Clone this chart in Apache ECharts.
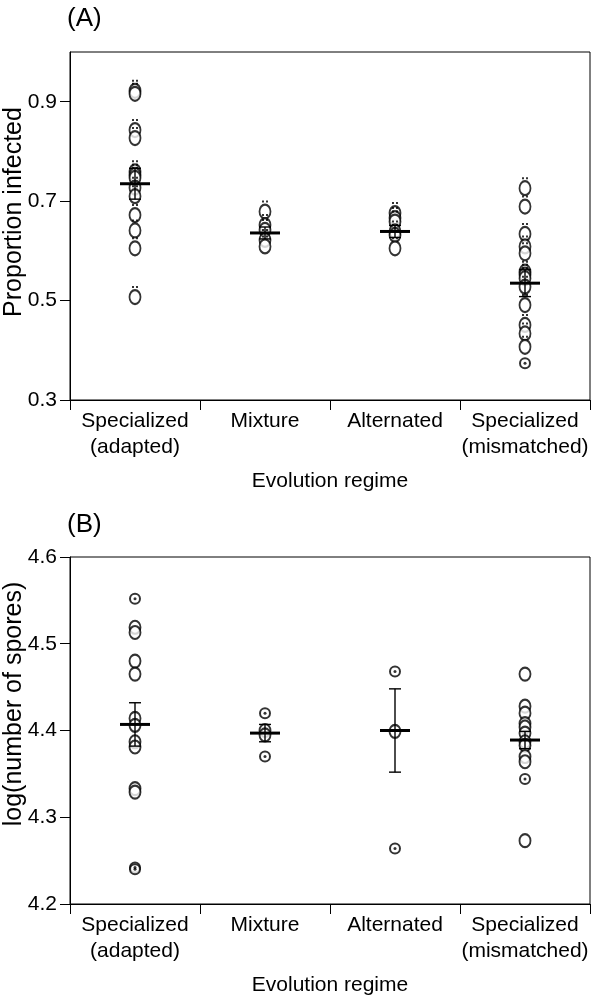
<!DOCTYPE html>
<html><head><meta charset="utf-8">
<script src="https://cdn.jsdelivr.net/npm/echarts@6/dist/echarts.min.js"></script>
<style>html,body{margin:0;padding:0;background:#fff}#c{width:600px;height:999px}</style>
</head><body><div id="c"></div>
<script>
const categories = ['Specialized\n(adapted)', 'Mixture', 'Alternated', 'Specialized\n(mismatched)'];

// Panel A: proportion infected
const aAdapted    = [0.922, 0.916, 0.843, 0.827, 0.760, 0.753, 0.747, 0.727, 0.710, 0.672, 0.641, 0.605, 0.507];
const aMixture    = [0.679, 0.652, 0.642, 0.622, 0.609];
const aAlternated = [0.676, 0.666, 0.659, 0.639, 0.632, 0.605];
const aMismatched = [0.726, 0.689, 0.634, 0.609, 0.595, 0.558, 0.552, 0.545, 0.528, 0.491, 0.451, 0.434, 0.407, 0.374];
const aDotted     = [[], [], [], [0.374]];   // points drawn as circle with centre dot
const aMeans = [0.735, 0.636, 0.639, 0.535];
const aSE    = [0.031, 0.012, 0.012, 0.027];
const aTicks = [0.3, 0.5, 0.7, 0.9];

// Panel B: log(number of spores)
const bAdapted    = [4.552, 4.519, 4.513, 4.480, 4.465, 4.414, 4.406, 4.387, 4.381, 4.333, 4.329, 4.242, 4.240];
const bMixture    = [4.420, 4.400, 4.395, 4.370];
const bAlternated = [4.468, 4.399, 4.264];
const bMismatched = [4.465, 4.428, 4.420, 4.408, 4.404, 4.397, 4.387, 4.383, 4.370, 4.364, 4.344, 4.273];
const bDotted     = [[4.552, 4.242, 4.240], [4.420, 4.370], [4.468, 4.264], [4.344]];
const bMeans = [4.407, 4.397, 4.400, 4.389];
const bSE    = [0.025, 0.010, 0.048, 0.010];
const bTicks = [4.2, 4.3, 4.4, 4.5, 4.6];

const FONT = 'Liberation Sans';

function pts(groups, dotted, wantDotted) {
  const out = [];
  groups.forEach((g, i) => g.forEach(v => {
    const isDot = dotted[i].indexOf(v) >= 0;
    if (isDot === wantDotted) out.push([i, v]);
  }));
  return out;
}
function errData(means, se) {
  return means.map((m, i) => [i, m, m - se[i], m + se[i]]);
}
function renderErr(params, api) {
  const c = api.coord([api.value(0), api.value(1)]);
  const lo = api.coord([api.value(0), api.value(2)]);
  const hi = api.coord([api.value(0), api.value(3)]);
  const x = c[0];
  const thin = { stroke: '#000', lineWidth: 1.4 };
  return {
    type: 'group',
    children: [
      { type: 'line', shape: { x1: x, y1: hi[1], x2: x, y2: lo[1] }, style: thin },
      { type: 'line', shape: { x1: x - 6, y1: hi[1], x2: x + 6, y2: hi[1] }, style: thin },
      { type: 'line', shape: { x1: x - 6, y1: lo[1], x2: x + 6, y2: lo[1] }, style: thin },
      { type: 'line', shape: { x1: x - 15, y1: c[1], x2: x + 15, y2: c[1] }, style: { stroke: '#000', lineWidth: 3 } }
    ]
  };
}

const txt = { color: '#000', fontFamily: FONT, fontSize: 21 };

function xAxis(idx) {
  return {
    type: 'category', gridIndex: idx, data: categories, boundaryGap: true,
    axisLine: { show: true, lineStyle: { color: '#000', width: 1 } },
    axisTick: { show: true, length: 10, lineStyle: { color: '#000', width: 1 } },
    axisLabel: Object.assign({ margin: 8, lineHeight: 26, interval: 0 }, txt),
    name: 'Evolution regime', nameLocation: 'middle', nameGap: 71,
    nameTextStyle: txt,
    splitLine: { show: false }
  };
}
function yAxis(idx, min, max, ticks) {
  return {
    type: 'value', gridIndex: idx, min: min, max: max,
    axisLine: { show: true, lineStyle: { color: '#000', width: 1 } },
    axisTick: { show: true, length: 10, customValues: ticks, lineStyle: { color: '#000', width: 1 } },
    axisLabel: Object.assign({ margin: 13, customValues: ticks, formatter: v => v.toFixed(1) }, txt),
    splitLine: { show: false }
  };
}

const chart = echarts.init(document.getElementById('c'), null, { renderer: 'canvas' });
const ring = { symbol: 'emptyCircle', itemStyle: { color: '#000', borderColor: '#000', borderWidth: 1.6 } };
const gridBase = { left: 70, width: 520, show: true, borderColor: '#000', borderWidth: 1, backgroundColor: 'transparent', containLabel: false, outerBoundsMode: 'none' };
const nameStyle = { text: '', fill: '#000', font: '25px "Liberation Sans"', align: 'center', verticalAlign: 'middle' };
const aGroups = [aAdapted, aMixture, aAlternated, aMismatched];
const bGroups = [bAdapted, bMixture, bAlternated, bMismatched];

chart.setOption({
  backgroundColor: '#fff',
  animation: false,
  title: [
    { text: '(A)', left: 67, top: 6, padding: 0, textStyle: { color: '#000', fontFamily: FONT, fontSize: 26, fontWeight: 'normal' } },
    { text: '(B)', left: 67, top: 512, padding: 0, textStyle: { color: '#000', fontFamily: FONT, fontSize: 26, fontWeight: 'normal' } }
  ],
  graphic: [
    { type: 'text', x: 14, y: 212, rotation: Math.PI / 2, style: Object.assign({}, nameStyle, { text: 'Proportion infected' }) },
    { type: 'text', x: 14, y: 704, rotation: Math.PI / 2, style: Object.assign({}, nameStyle, { text: 'log(number of spores)' }) }
  ],
  grid: [
    Object.assign({ top: 52, height: 348 }, gridBase),
    Object.assign({ top: 557, height: 347 }, gridBase)
  ],
  xAxis: [xAxis(0), xAxis(1)],
  yAxis: [yAxis(0, 0.3, 1.0, aTicks), yAxis(1, 4.2, 4.6, bTicks)],
  series: [
    Object.assign({ type: 'scatter', xAxisIndex: 0, yAxisIndex: 0, symbolSize: [11, 14],
      data: pts(aGroups, aDotted, false) }, ring),
    // the two small marks above each open marker in panel A
    { type: 'scatter', xAxisIndex: 0, yAxisIndex: 0, symbol: 'path://M0,0h2v2h-2zM4,0h2v2h-2z',
      symbolSize: [6, 2], symbolOffset: [0, -10], itemStyle: { color: '#000' }, silent: true,
      data: pts(aGroups, aDotted, false) },
    Object.assign({ type: 'scatter', xAxisIndex: 0, yAxisIndex: 0, symbolSize: [10, 10],
      data: pts(aGroups, aDotted, true) }, ring),
    { type: 'scatter', xAxisIndex: 0, yAxisIndex: 0, symbol: 'circle', symbolSize: 3, itemStyle: { color: '#000' },
      data: pts(aGroups, aDotted, true) },
    Object.assign({ type: 'scatter', xAxisIndex: 1, yAxisIndex: 1, symbolSize: [11, 13],
      data: pts(bGroups, bDotted, false) }, ring),
    Object.assign({ type: 'scatter', xAxisIndex: 1, yAxisIndex: 1, symbolSize: [10, 10],
      data: pts(bGroups, bDotted, true) }, ring),
    { type: 'scatter', xAxisIndex: 1, yAxisIndex: 1, symbol: 'circle', symbolSize: 3, itemStyle: { color: '#000' },
      data: pts(bGroups, bDotted, true) },
    { type: 'custom', xAxisIndex: 0, yAxisIndex: 0, renderItem: renderErr, data: errData(aMeans, aSE), z: 5 },
    { type: 'custom', xAxisIndex: 1, yAxisIndex: 1, renderItem: renderErr, data: errData(bMeans, bSE), z: 5 }
  ]
});
</script></body></html>
